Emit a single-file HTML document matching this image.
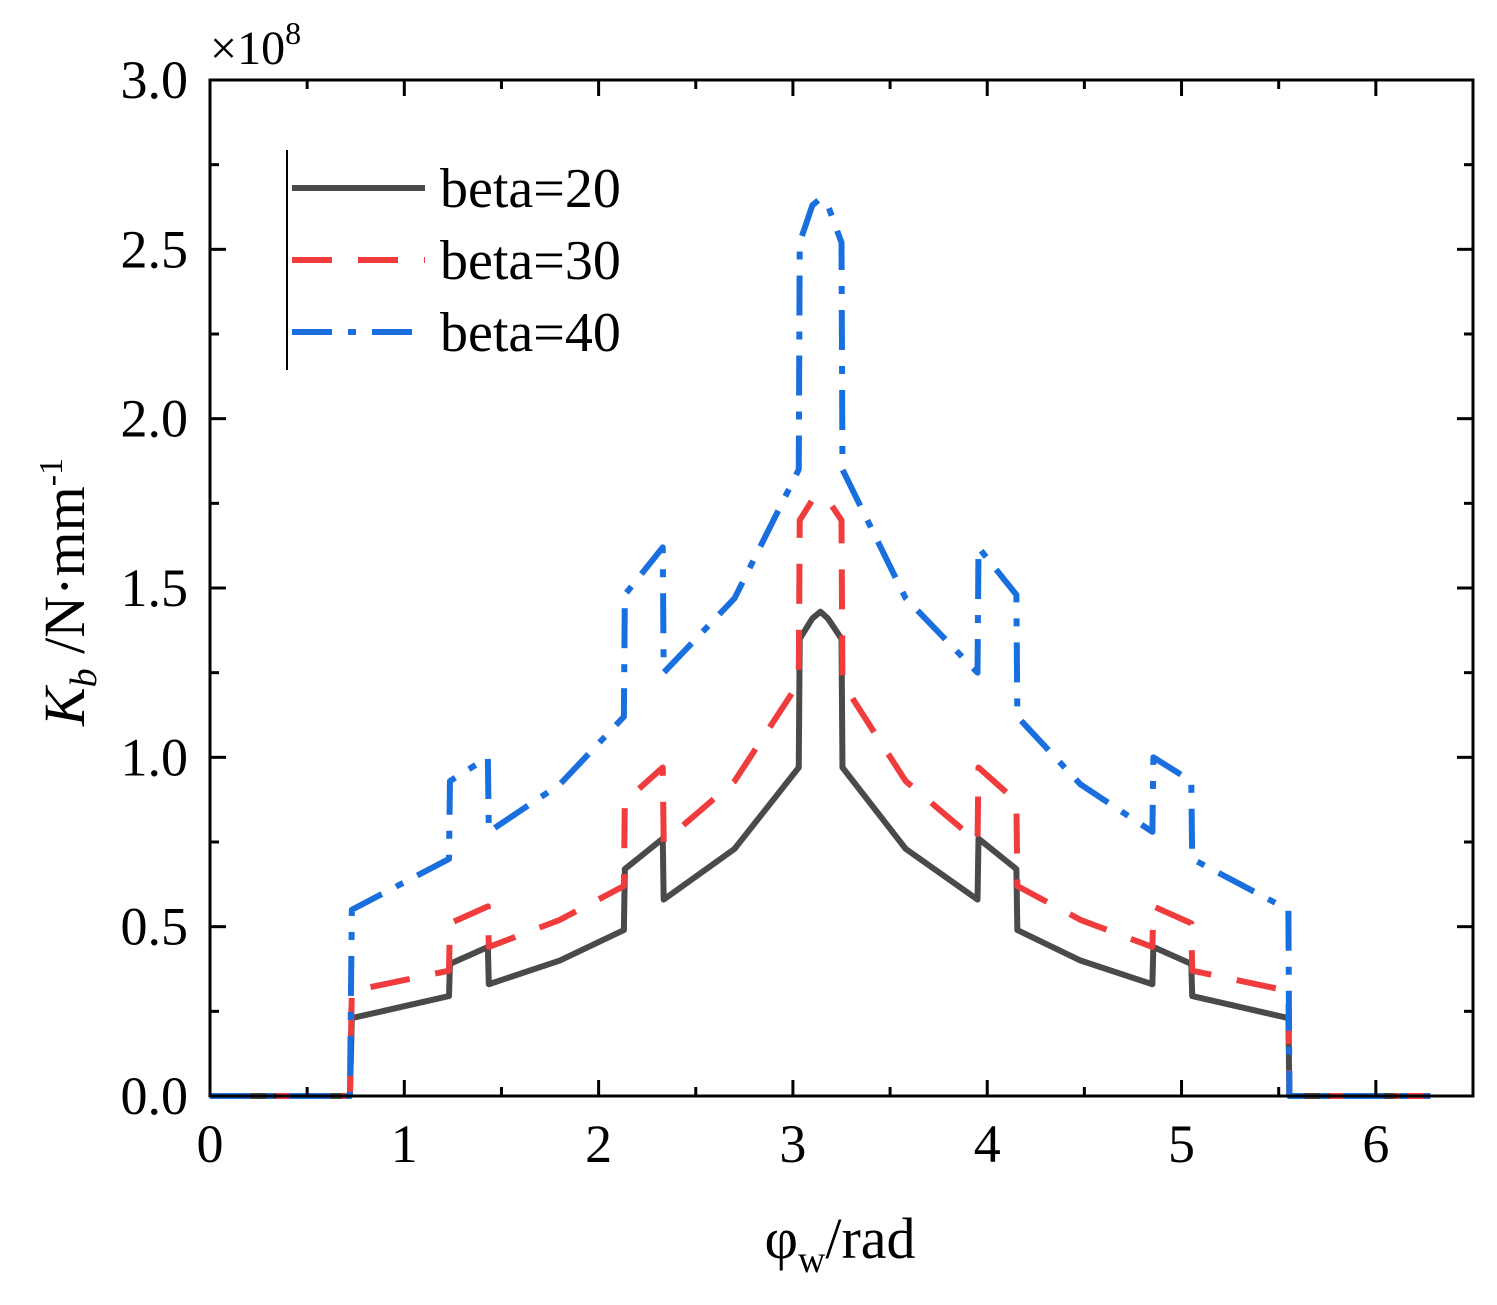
<!DOCTYPE html>
<html><head><meta charset="utf-8"><style>
body{margin:0;background:#fff}
svg text{font-family:"Liberation Serif",serif;fill:#000}
</style></head><body>
<svg id="chart" width="1497" height="1300">
</svg>
<script>
const xs = [0,0.72,0.73,1.23,1.235,1.43,1.435,1.8,2.13,2.135,2.33,2.335,2.7,3.03,3.035,3.10,3.1416,3.18,3.25,3.255,3.58,3.95,3.955,4.15,4.155,4.48,4.85,4.855,5.05,5.055,5.55,5.555,6.28];
const beta20 = [0,0,0.23,0.295,0.39,0.44,0.33,0.40,0.49,0.67,0.76,0.58,0.73,0.97,1.35,1.41,1.43,1.41,1.35,0.97,0.73,0.58,0.76,0.67,0.49,0.40,0.33,0.44,0.39,0.295,0.23,0,0];
const beta30 = [0,0,0.31,0.37,0.51,0.56,0.44,0.52,0.62,0.87,0.97,0.75,0.93,1.22,1.70,1.76,1.77,1.76,1.70,1.22,0.93,0.75,0.97,0.87,0.62,0.52,0.44,0.56,0.51,0.37,0.31,0,0];
const beta40 = [0,0,0.55,0.70,0.93,1.00,0.78,0.92,1.12,1.48,1.62,1.25,1.47,1.85,2.52,2.63,2.65,2.63,2.52,1.85,1.47,1.25,1.62,1.48,1.12,0.92,0.78,1.00,0.93,0.70,0.55,0,0];
const xTicks = [0,1,2,3,4,5,6];
const yTicks = ["0.0","0.5","1.0","1.5","2.0","2.5","3.0"];
const seriesNames = ["beta=20","beta=30","beta=40"];

const svg = document.getElementById('chart');
const NS = 'http://www.w3.org/2000/svg';
const X0=210, X1=1473, Y0=1096, Y1=80, XMAX=6.5, YMAX=3.0;
const sx = v => X0 + v/XMAX*(X1-X0);
const sy = v => Y0 - v/YMAX*(Y0-Y1);
function mk(tag, attrs){const e=document.createElementNS(NS,tag);for(const k in attrs)e.setAttribute(k,attrs[k]);svg.appendChild(e);return e;}

const styles=[{c:'#4a4a4a',d:''},{c:'#f03c3c',d:'40 26'},{c:'#1a6fdf',d:'40 16 8 16'}];
[beta20,beta30,beta40].forEach((s,i)=>{
  const p = mk('polyline',{points:xs.map((x,j)=>sx(x)+','+sy(s[j])).join(' '),fill:'none',stroke:styles[i].c,'stroke-width':6,'stroke-dasharray':styles[i].d,'stroke-linejoin':'round'});
  
  
});

const fr = mk('rect',{x:X0,y:Y1,width:X1-X0,height:Y0-Y1,fill:'none',stroke:'#000','stroke-width':3});



for(let v=0; v<=6.5; v+=0.5){
  const major = Number.isInteger(v); const L = major?16:9;
  mk('line',{x1:sx(v),x2:sx(v),y1:Y0,y2:Y0-L,stroke:'#000','stroke-width':3});
  mk('line',{x1:sx(v),x2:sx(v),y1:Y1,y2:Y1+L,stroke:'#000','stroke-width':3});
}
xTicks.forEach(v=>{
  const t=mk('text',{x:sx(v),y:1162,'font-size':54,'text-anchor':'middle'});t.textContent=v;
  
  
});
for(let v=0; v<=3.0001; v+=0.25){
  const major = Math.abs(v*2-Math.round(v*2))<1e-6; const L = major?16:9;
  mk('line',{x1:X0,x2:X0+L,y1:sy(v),y2:sy(v),stroke:'#000','stroke-width':3});
  mk('line',{x1:X1,x2:X1-L,y1:sy(v),y2:sy(v),stroke:'#000','stroke-width':3});
}
yTicks.forEach(v=>{
  const t=mk('text',{x:188,y:sy(+v)+18,'font-size':54,'text-anchor':'end'});t.textContent=v;
  
  
});
</script>
<svg width="1497" height="1300" style="position:absolute;left:0;top:0">
  <text x="210" y="64" font-size="48" font-family="Liberation Serif">×10<tspan dy="-20" font-size="32">8</tspan></text>
  <text x="840" y="1258" font-size="58" font-family="Liberation Serif" text-anchor="middle">φ<tspan dy="14" font-size="38">w</tspan><tspan dy="-14">/rad</tspan></text>
  <text transform="translate(84,592) rotate(-90)" font-size="58" font-family="Liberation Serif" text-anchor="middle"><tspan font-style="italic">K</tspan><tspan dy="12" font-size="38" font-style="italic">b</tspan><tspan dy="-12"> /N·mm</tspan><tspan dy="-22" font-size="34">-1</tspan></text>
  <g>
    <line x1="287" y1="150" x2="287" y2="370" stroke="#000" stroke-width="2"/>
    <line x1="292" y1="188" x2="425" y2="188" stroke="#4a4a4a" stroke-width="6"/>
    <line x1="292" y1="260" x2="425" y2="260" stroke="#f03c3c" stroke-width="6" stroke-dasharray="40 26"/>
    <line x1="292" y1="332" x2="425" y2="332" stroke="#1a6fdf" stroke-width="6" stroke-dasharray="40 16 8 16"/>
    <text x="440" y="207" font-size="56" font-family="Liberation Serif">beta=20</text>
    <text x="440" y="279" font-size="56" font-family="Liberation Serif">beta=30</text>
    <text x="440" y="351" font-size="56" font-family="Liberation Serif">beta=40</text>
  </g>
</svg>
</body></html>
